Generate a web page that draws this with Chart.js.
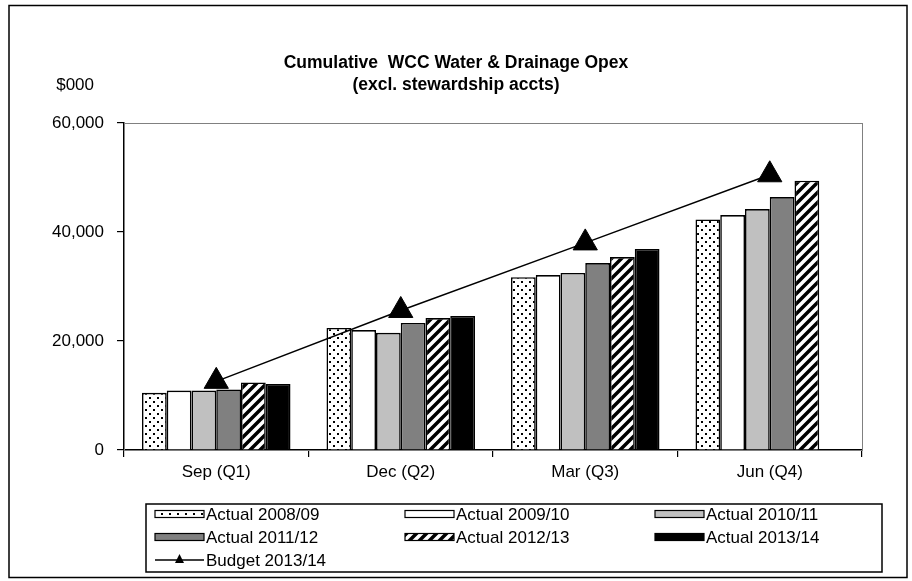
<!DOCTYPE html>
<html>
<head>
<meta charset="utf-8">
<script src="https://cdn.jsdelivr.net/npm/chart.js@4"></script>
<style>
html,body{margin:0;padding:0;background:#fff;}
</style>
</head>
<body>
<canvas id="grafico" width="912" height="581"></canvas>
<script>
var trimestres = ["Sep (Q1)", "Dec (Q2)", "Mar (Q3)", "Jun (Q4)"];
var series = ["Actual 2008/09", "Actual 2009/10", "Actual 2010/11", "Actual 2011/12", "Actual 2012/13", "Actual 2013/14"];
var actual0809 = [10500, 22400, 31700, 42300];
var actual0910 = [10900, 22000, 32100, 43100];
var actual1011 = [10900, 21500, 32500, 44200];
var actual1112 = [11100, 23300, 34300, 46400];
var actual1213 = [12400, 24200, 35400, 49400];
var actual1314 = [12100, 24600, 36900, null];
var budgetLabel = "Budget 2013/14";
var budget1314 = [12600, 25600, 38000, 50500];
var ticksY = [0, 20000, 40000, 60000];
var titulo = ["Cumulative  WCC Water & Drainage Opex", "(excl. stewardship accts)"];
var unidad = "$000";

var FUENTE = '"Liberation Sans", Arial, sans-serif';

function patronPuntos() {
    var c = document.createElement('canvas');
    c.width = 8; c.height = 8;
    var g = c.getContext('2d');
    g.fillStyle = '#fff'; g.fillRect(0, 0, 8, 8);
    g.fillStyle = '#000';
    g.fillRect(1, 1, 2, 2);
    g.fillRect(5, 5, 2, 2);
    return g.createPattern(c, 'repeat');
}

function patronRayas() {
    var n = 10;
    var c = document.createElement('canvas');
    c.width = n; c.height = n;
    var g = c.getContext('2d');
    g.fillStyle = '#fff'; g.fillRect(0, 0, n, n);
    g.strokeStyle = '#000';
    g.lineWidth = 3.5;
    g.beginPath();
    g.moveTo(-2, n + 2); g.lineTo(n + 2, -2);
    g.moveTo(-2, 2); g.lineTo(2, -2);
    g.moveTo(n - 2, n + 2); g.lineTo(n + 2, n - 2);
    g.stroke();
    return g.createPattern(c, 'repeat');
}

var rellenos = [patronPuntos(), '#ffffff', '#c0c0c0', '#808080', patronRayas(), '#000000'];
var valores = [actual0809, actual0910, actual1011, actual1112, actual1213, actual1314];

var datasets = series.map(function (s, i) {
    return {
        type: 'bar',
        label: s,
        data: valores[i],
        backgroundColor: rellenos[i],
        borderColor: '#000',
        borderWidth: 1.6,
        barPercentage: 1,
        categoryPercentage: 0.805,
        order: 1
    };
});
datasets.push({
    type: 'line',
    label: budgetLabel,
    data: budget1314,
    borderColor: '#000',
    borderWidth: 1.5,
    pointStyle: 'triangle',
    pointRadius: 14,
    pointBackgroundColor: '#000',
    pointBorderColor: '#000',
    pointBorderWidth: 1,
    fill: false,
    tension: 0,
    order: 0
});

// marco, titulos y leyenda al estilo Excel
var extras = {
    id: 'extras',
    beforeDatasetsDraw: function (chart) {
        var ctx = chart.ctx, a = chart.chartArea;
        ctx.save();
        ctx.strokeStyle = '#808080';
        ctx.lineWidth = 1;
        ctx.strokeRect(a.left + 0.5, a.top + 0.5, a.right - a.left, a.bottom - a.top);
        ctx.restore();
    },
    afterDraw: function (chart) {
        var ctx = chart.ctx;
        ctx.save();
        // borde exterior
        ctx.strokeStyle = '#000';
        ctx.lineWidth = 1.5;
        ctx.strokeRect(9, 5.5, 898, 572);

        ctx.fillStyle = '#000';
        ctx.textAlign = 'center';
        ctx.textBaseline = 'middle';
        ctx.font = 'bold 17.5px ' + FUENTE;
        ctx.fillText(titulo[0], 456, 63);
        ctx.fillText(titulo[1], 456, 85);

        ctx.textAlign = 'right';
        ctx.font = '17px ' + FUENTE;
        ctx.fillText(unidad, 94, 85);

        // leyenda
        ctx.lineWidth = 1.5;
        ctx.strokeRect(146, 504, 736, 68);
        var cols = [155, 405, 655], filas = [514, 537, 560];
        ctx.textAlign = 'left';
        chart.data.datasets.forEach(function (ds, i) {
            var x = cols[i % 3], y = filas[Math.floor(i / 3)];
            if (ds.type === 'bar') {
                ctx.fillStyle = ds.backgroundColor;
                ctx.fillRect(x, y - 3.5, 49, 7);
                ctx.strokeStyle = '#000';
                ctx.lineWidth = 1.2;
                ctx.strokeRect(x, y - 3.5, 49, 7);
            } else {
                ctx.strokeStyle = '#000';
                ctx.lineWidth = 1.5;
                ctx.beginPath();
                ctx.moveTo(x, y); ctx.lineTo(x + 49, y);
                ctx.stroke();
                ctx.fillStyle = '#000';
                ctx.beginPath();
                ctx.moveTo(x + 24.5, y - 6);
                ctx.lineTo(x + 29, y + 3);
                ctx.lineTo(x + 20, y + 3);
                ctx.closePath();
                ctx.fill();
            }
            ctx.fillStyle = '#000';
            ctx.fillText(ds.label, x + 51, y + 1);
        });
        ctx.restore();
    }
};

var grafico = new Chart(document.getElementById('grafico'), {
    data: {
        labels: trimestres,
        datasets: datasets
    },
    options: {
        responsive: false,
        animation: false,
        devicePixelRatio: 1,
        layout: { padding: { top: 123, right: 50, bottom: 91, left: 0 } },
        plugins: {
            legend: { display: false },
            title: { display: false },
            tooltip: { enabled: false }
        },
        scales: {
            x: {
                grid: { display: true, offset: true, drawOnChartArea: false, drawTicks: true, tickLength: 7, color: '#000', lineWidth: 1.2 },
                border: { color: '#000', width: 1.5 },
                ticks: { color: '#000', font: { family: FUENTE, size: 17 }, padding: 5, maxRotation: 0 },
                afterFit: function (s) { s.height = 40; }
            },
            y: {
                min: 0,
                max: 60000,
                grid: { display: true, drawOnChartArea: false, drawTicks: true, tickLength: 7, color: '#000', lineWidth: 1.2 },
                border: { color: '#000', width: 1.5 },
                ticks: {
                    color: '#000',
                    font: { family: FUENTE, size: 17 },
                    padding: 13,
                    callback: function (v) { return v.toLocaleString('en-US'); }
                },
                afterBuildTicks: function (s) { s.ticks = ticksY.map(function (v) { return { value: v }; }); },
                afterFit: function (s) { s.width = 124; }
            }
        }
    },
    plugins: [extras]
});
</script>
</body>
</html>
